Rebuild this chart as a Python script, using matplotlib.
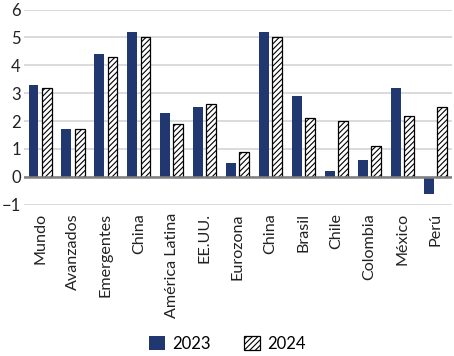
import numpy as np
import matplotlib.pyplot as plt

plt.rcParams['font.family'] = ['Lato', 'DejaVu Sans']
plt.rcParams['hatch.linewidth'] = 0.8

categorias = ['Mundo', 'Avanzados', 'Emergentes', 'China', 'América Latina', 'EE.UU.',
              'Eurozona', 'China', 'Brasil', 'Chile', 'Colombia', 'México', 'Perú']
v2023 = [3.3, 1.7, 4.4, 5.2, 2.3, 2.5, 0.5, 5.2, 2.9, 0.2, 0.6, 3.2, -0.6]
v2024 = [3.2, 1.7, 4.3, 5.0, 1.9, 2.6, 0.9, 5.0, 2.1, 2.0, 1.1, 2.2, 2.5]

navy = '#20386f'
x = np.arange(len(categorias))
w = 0.3

fig = plt.figure(figsize=(4.54, 3.56), dpi=100)
ax = fig.add_axes([0.052, 0.425, 0.943, 0.548])

ax.bar(x - 0.2, v2023, w, color=navy, label='2023', zorder=3)
ax.bar(x + 0.2, v2024, w, color='white', edgecolor='black', hatch='//////',
       linewidth=0.9, label='2024', zorder=3)

ax.set_ylim(-1, 6)
ax.set_xlim(-0.5, len(categorias) - 0.5)
ax.set_yticks(range(-1, 7))
ax.grid(axis='y', color='#d4d4d4', linewidth=1.2, zorder=0)
ax.axhline(0, color='#808080', linewidth=1.8, zorder=4)
for s in ax.spines.values():
    s.set_visible(False)
ax.tick_params(length=0, colors='#222222')
ax.set_xticks(x)
ax.set_xticklabels(categorias, rotation=90)
ax.tick_params(axis='x', pad=6, labelsize=11.6)
ax.tick_params(axis='y', pad=2, labelsize=12)

fig.legend(loc='lower center', ncol=2, frameon=False, fontsize=12,
           bbox_to_anchor=(0.5, -0.03), handlelength=1.0, handleheight=1.0,
           columnspacing=2.0, handletextpad=0.4)

fig.savefig('out.png', dpi=100)
